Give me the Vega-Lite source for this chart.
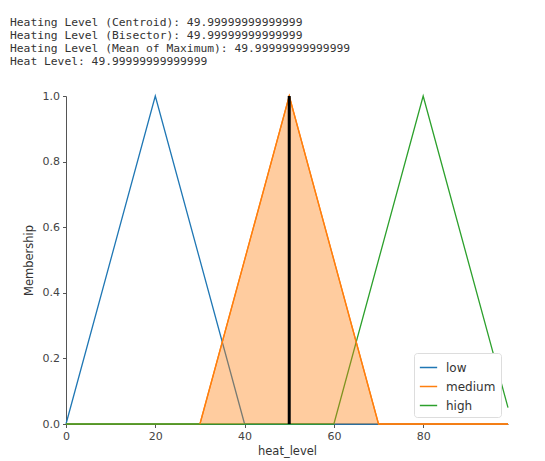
{
  "$schema": "https://vega.github.io/schema/vega-lite/v6.json",
  "width": 442,
  "height": 328,
  "autosize": "none",
  "padding": {"left": 66, "top": 96, "right": 37, "bottom": 37},
  "background": "white",
  "title": {
    "text": ["Heating Level (Centroid): 49.99999999999999", "Heating Level (Bisector): 49.99999999999999", "Heating Level (Mean of Maximum): 49.99999999999999", "Heat Level: 49.99999999999999"],
    "anchor": "start",
    "frame": "group",
    "dx": -56,
    "offset": 23,
    "font": "DejaVu Sans Mono",
    "fontSize": 11.3,
    "fontWeight": "normal",
    "color": "#333333",
    "lineHeight": 12.9
  },
  "config": {
    "view": {"stroke": null},
    "axis": {
      "labelFont": "DejaVu Sans",
      "titleFont": "DejaVu Sans",
      "labelFontSize": 11,
      "titleFontSize": 11.5,
      "titleFontWeight": "normal",
      "labelColor": "#444444",
      "titleColor": "#333333",
      "domainColor": "#555555",
      "tickColor": "#555555",
      "tickSize": 3.5,
      "labelFlush": false,
      "grid": false
    },
    "legend": {
      "labelFont": "DejaVu Sans",
      "labelFontSize": 12,
      "labelColor": "#333333"
    }
  },
  "datasets": {
    "terms": [
      {"x": 0, "m": 0, "term": "low"},
      {"x": 20, "m": 1, "term": "low"},
      {"x": 40, "m": 0, "term": "low"},
      {"x": 99, "m": 0, "term": "low"},
      {"x": 0, "m": 0, "term": "medium"},
      {"x": 30, "m": 0, "term": "medium"},
      {"x": 50, "m": 1, "term": "medium"},
      {"x": 70, "m": 0, "term": "medium"},
      {"x": 99, "m": 0, "term": "medium"},
      {"x": 0, "m": 0, "term": "high"},
      {"x": 60, "m": 0, "term": "high"},
      {"x": 80, "m": 1, "term": "high"},
      {"x": 99, "m": 0.05, "term": "high"}
    ],
    "activation": [
      {"x": 30, "m": 0},
      {"x": 50, "m": 1},
      {"x": 70, "m": 0},
      {"x": 99, "m": 0}
    ],
    "crisp": [
      {"x": 50, "m0": 0, "m1": 1}
    ]
  },
  "layer": [
    {
      "data": {"name": "terms"},
      "mark": {"type": "line", "strokeWidth": 1.3},
      "encoding": {
        "x": {
          "field": "x", "type": "quantitative",
          "scale": {"domain": [0, 99], "nice": false, "zero": false},
          "axis": {"values": [0, 20, 40, 60, 80], "title": "heat_level", "titlePadding": 4, "labelPadding": 3}
        },
        "y": {
          "field": "m", "type": "quantitative",
          "scale": {"domain": [0, 1], "nice": false},
          "axis": {"values": [0, 0.2, 0.4, 0.6, 0.8, 1.0], "format": ".1f", "title": "Membership", "titlePadding": 8, "labelPadding": 3}
        },
        "color": {
          "field": "term", "type": "nominal",
          "scale": {"domain": ["low", "medium", "high"], "range": ["#1f77b4", "#ff7f0e", "#2ca02c"]},
          "legend": {
            "title": null,
            "orient": "bottom-right",
            "offset": 7,
            "symbolType": "stroke",
            "symbolSize": 300,
            "symbolStrokeWidth": 1.5,
            "rowPadding": 3,
            "padding": 5,
            "strokeColor": "#dddddd",
            "fillColor": "white",
            "cornerRadius": 3,
            "labelOffset": 8
          }
        }
      }
    },
    {
      "data": {"name": "activation"},
      "mark": {"type": "area", "color": "#ff7f0e", "fillOpacity": 0.4, "line": {"color": "#ff7f0e", "strokeWidth": 1.3}},
      "encoding": {
        "x": {"field": "x", "type": "quantitative"},
        "y": {"field": "m", "type": "quantitative"}
      }
    },
    {
      "data": {"name": "crisp"},
      "mark": {"type": "rule", "color": "black", "strokeWidth": 3},
      "encoding": {
        "x": {"field": "x", "type": "quantitative"},
        "y": {"field": "m0", "type": "quantitative"},
        "y2": {"field": "m1"}
      }
    }
  ]
}
